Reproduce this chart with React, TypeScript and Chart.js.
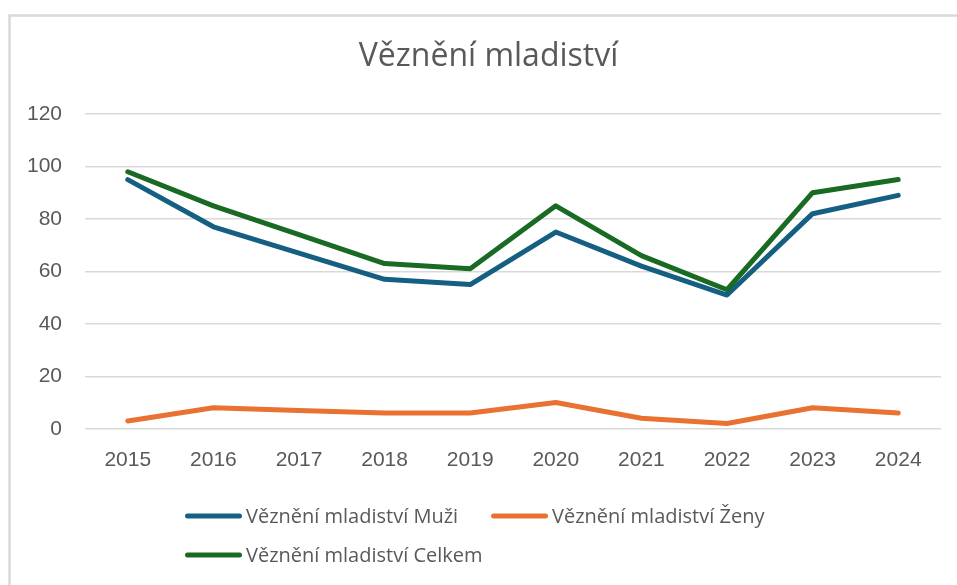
import React, { useEffect, useRef } from "react";
import { Chart, registerables } from "chart.js";

Chart.register(...registerables);

const titleText = "Věznění mladiství";
const years = ["2015", "2016", "2017", "2018", "2019", "2020", "2021", "2022", "2023", "2024"];
const muzi = [95, 77, 67, 57, 55, 75, 62, 51, 82, 89];
const zeny = [3, 8, 7, 6, 6, 10, 4, 2, 8, 6];
const celkem = [98, 85, 74, 63, 61, 85, 66, 53, 90, 95];
const seriesLabels = ["Věznění mladiství Muži", "Věznění mladiství Ženy", "Věznění mladiství Celkem"];
const seriesColors = ["#156082", "#E97132", "#196B24"];
const yMin = 0;
const yMax = 120;
const yStep = 20;

const textColor = "#595959";
const gridColor = "#d9d9d9";

const framePlugin = {
  id: "frame",
  beforeDraw(chart: any) {
    const ctx = chart.ctx;
    ctx.save();
    ctx.strokeStyle = gridColor;
    ctx.lineWidth = 2.5;
    ctx.beginPath();
    ctx.moveTo(9.5, chart.height + 5);
    ctx.lineTo(9.5, 15.5);
    ctx.lineTo(chart.width + 5, 15.5);
    ctx.stroke();
    ctx.restore();
  },
};

const titlePlugin = {
  id: "customTitle",
  afterDraw(chart: any) {
    const ctx = chart.ctx;
    ctx.save();
    ctx.font = "32px 'Open Sans'";
    ctx.fillStyle = textColor;
    ctx.textAlign = "center";
    ctx.textBaseline = "middle";
    ctx.fillText(titleText, 488.5, 57);
    ctx.restore();
  },
};

const customLegend = {
  id: "customLegend",
  afterDraw(chart: any) {
    const ctx = chart.ctx;
    const startX = 185;
    const maxX = 800;
    const rowYs = [516, 555];
    const sample = 57;
    const gapText = 4;
    const gapItem = 33;
    ctx.save();
    ctx.font = "20px 'Open Sans'";
    ctx.textBaseline = "middle";
    ctx.textAlign = "left";
    let x = startX;
    let row = 0;
    chart.data.datasets.forEach((ds: any) => {
      const tw = ctx.measureText(ds.label).width;
      const w = sample + gapText + tw;
      if (x !== startX && x + w > maxX) {
        row += 1;
        x = startX;
      }
      const y = rowYs[Math.min(row, rowYs.length - 1)] + (row >= rowYs.length ? (row - rowYs.length + 1) * 39 : 0);
      ctx.strokeStyle = ds.borderColor;
      ctx.lineWidth = 5;
      ctx.lineCap = "round";
      ctx.beginPath();
      ctx.moveTo(x + 2.5, y);
      ctx.lineTo(x + sample - 2.5, y);
      ctx.stroke();
      ctx.fillStyle = textColor;
      ctx.fillText(ds.label, x + sample + gapText, y + 1);
      x += w + gapItem;
    });
    ctx.restore();
  },
};

export default function App() {
  const ref = useRef<HTMLCanvasElement | null>(null);

  useEffect(() => {
    document.body.style.margin = "0";
    if (!ref.current) return;
    const mk = (i: number, data: number[], order: number) => ({
      label: seriesLabels[i],
      data,
      borderColor: seriesColors[i],
      backgroundColor: seriesColors[i],
      borderWidth: 5,
      borderJoinStyle: "round" as const,
      borderCapStyle: "round" as const,
      pointRadius: 0,
      pointHoverRadius: 0,
      tension: 0,
      fill: false,
      order,
    });
    const chart = new Chart(ref.current, {
      type: "line",
      data: {
        labels: years,
        datasets: [mk(0, muzi, 2), mk(1, zeny, 1), mk(2, celkem, 0)],
      },
      options: {
        animation: false,
        responsive: false,
        maintainAspectRatio: false,
        layout: { padding: { left: 0, right: 16, top: 114, bottom: 93 } },
        plugins: {
          legend: { display: false },
          tooltip: { enabled: false },
          title: { display: false },
        },
        scales: {
          x: {
            offset: true,
            grid: { display: false, drawTicks: false },
            border: { display: false },
            ticks: {
              color: textColor,
              font: { family: "'Liberation Sans'", size: 21 },
              padding: 19,
              maxRotation: 0,
              autoSkip: false,
            },
          },
          y: {
            min: yMin,
            max: yMax,
            grid: { color: gridColor, lineWidth: 1.5, drawTicks: false },
            border: { display: false },
            ticks: {
              stepSize: yStep,
              color: textColor,
              font: { family: "'Liberation Sans'", size: 21 },
              padding: 23,
            },
            afterFit(scale: any) {
              scale.width = 85;
            },
          },
        },
      },
      plugins: [framePlugin, titlePlugin, customLegend],
    });
    return () => chart.destroy();
  }, []);

  return (
    <div style={{ width: 957, height: 585, background: "#fff" }}>
      <canvas ref={ref} width={957} height={585} style={{ display: "block", width: 957, height: 585 }} />
    </div>
  );
}
